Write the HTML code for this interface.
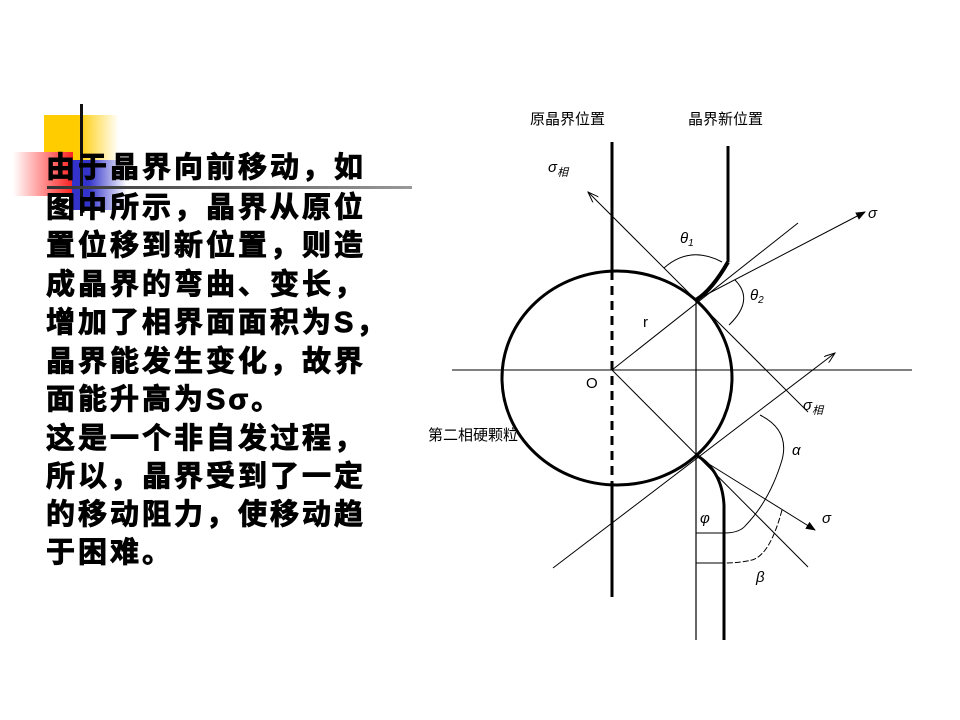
<!DOCTYPE html>
<html><head><meta charset="utf-8"><style>
body{margin:0;width:960px;height:720px;background:#fff;position:relative;overflow:hidden}
.t{position:absolute;left:46px;font-family:"Liberation Sans","Noto Sans CJK SC","WenQuanYi Zen Hei",sans-serif;font-weight:bold;font-size:29px;letter-spacing:3px;line-height:32px;color:#000;white-space:nowrap;-webkit-text-stroke:0.9px #000}
.l{font-family:"Liberation Sans","Noto Sans CJK SC",sans-serif;font-size:15px;fill:#000}
</style></head><body>
<svg width="960" height="720" style="position:absolute;left:0;top:0">
<defs>
<linearGradient id="gy" x1="0" x2="1"><stop offset="0.45" stop-color="#ffcc00"/><stop offset="1" stop-color="#fff"/></linearGradient>
<linearGradient id="gr" x1="1" x2="0"><stop offset="0" stop-color="#ff2020"/><stop offset="1" stop-color="#fff"/></linearGradient>
<linearGradient id="gb" x1="0" x2="1"><stop offset="0.3" stop-color="#3333cc"/><stop offset="1" stop-color="#fff"/></linearGradient>
<linearGradient id="gl" x1="0" x2="1"><stop offset="0" stop-color="#333"/><stop offset="1" stop-color="#999"/></linearGradient>
<marker id="ar" markerWidth="10" markerHeight="8" refX="9" refY="4" orient="auto" markerUnits="userSpaceOnUse"><path d="M0,0 L10,4 L0,8 z" fill="#000"/></marker>
<marker id="ao" markerWidth="12" markerHeight="8" refX="11" refY="4" orient="auto" markerUnits="userSpaceOnUse"><path d="M0,0 L11,4 L0,8" fill="none" stroke="#000"/></marker>
</defs>
<rect x="44" y="115" width="75" height="45" fill="url(#gy)"/>
<rect x="13" y="152" width="60" height="44" fill="url(#gr)"/>
<rect x="72" y="160" width="55" height="50" fill="url(#gb)"/>
<rect x="80" y="104" width="3" height="112" fill="#111"/>
<rect x="47" y="186" width="365" height="3" fill="url(#gl)"/>

<g stroke="#000" fill="none">
<line x1="452" y1="370" x2="912" y2="370" stroke-width="1"/>
<ellipse cx="617" cy="378" rx="115" ry="107" stroke-width="3"/>
<line x1="612" y1="142" x2="612" y2="271" stroke-width="3"/>
<line x1="612" y1="271" x2="612" y2="485" stroke-width="3" stroke-dasharray="9,6"/>
<line x1="612" y1="485" x2="612" y2="597" stroke-width="3"/>
<line x1="728" y1="146" x2="728" y2="262" stroke-width="3"/>
<path d="M728,262 Q712,290 696,300" stroke-width="4"/>
<line x1="696" y1="300" x2="696" y2="640" stroke-width="1.2"/>
<path d="M696,455 Q722,470 724,505 L724,640" stroke-width="3"/>
<line x1="808" y1="412" x2="588" y2="192" stroke-width="1" marker-end="url(#ao)"/>
<line x1="612" y1="370" x2="808" y2="567" stroke-width="1"/>
<line x1="612" y1="370" x2="798" y2="223" stroke-width="1"/>
<line x1="553" y1="568" x2="835" y2="353" stroke-width="1" marker-end="url(#ao)"/>
<line x1="696" y1="300" x2="865" y2="212" stroke-width="1" marker-end="url(#ar)"/>
<line x1="696" y1="456" x2="815" y2="530" stroke-width="1" marker-end="url(#ar)"/>
<path d="M664,268 Q690,245 722,262" stroke-width="1"/>
<path d="M735,280 Q755,300 729,325" stroke-width="1"/>
<path d="M760,415 Q790,430 782,460 Q770,500 746,525 Q740,533 724,533" stroke-width="1"/>
<path d="M782,510 Q770,555 752,560 Q740,563 724,563" stroke-width="1" stroke-dasharray="6,2"/>
<line x1="696" y1="533" x2="724" y2="533" stroke-width="1"/>
<line x1="696" y1="563" x2="724" y2="563" stroke-width="1"/>
</g>
<text class="l" x="530" y="124">原晶界位置</text>
<text class="l" x="688" y="124">晶界新位置</text>
<text class="l" x="428" y="440">第二相硬颗粒</text>
<text class="l" x="586" y="388">O</text>
<text class="l" x="548" y="172" font-style="italic" font-size="17">σ<tspan font-size="11" dy="4">相</tspan></text>
<text class="l" x="803" y="410" font-style="italic" font-size="17">σ<tspan font-size="11" dy="4">相</tspan></text>
<text class="l" x="868" y="218" font-style="italic" font-size="17">σ</text>
<text class="l" x="822" y="523" font-style="italic" font-size="17">σ</text>
<text class="l" x="680" y="243" font-style="italic">θ<tspan font-size="10" dy="3">1</tspan></text>
<text class="l" x="750" y="300" font-style="italic">θ<tspan font-size="10" dy="3">2</tspan></text>
<text class="l" x="643" y="327" font-size="12">r</text>
<text class="l" x="792" y="455" font-size="12" font-style="italic">α</text>
<text class="l" x="700" y="523" font-style="italic">φ</text>
<text class="l" x="756" y="582" font-style="italic">β</text>
</svg>
<div class="t" style="top:152px">由于晶界向前移动，如</div>
<div class="t" style="top:192px">图中所示，晶界从原位</div>
<div class="t" style="top:230px">置位移到新位置，则造</div>
<div class="t" style="top:269px">成晶界的弯曲、变长，</div>
<div class="t" style="top:307px">增加了相界面面积为S，</div>
<div class="t" style="top:346px">晶界能发生变化，故界</div>
<div class="t" style="top:384px">面能升高为Sσ。</div>
<div class="t" style="top:423px">这是一个非自发过程，</div>
<div class="t" style="top:461px">所以，晶界受到了一定</div>
<div class="t" style="top:499px">的移动阻力，使移动趋</div>
<div class="t" style="top:537px">于困难。</div>
</body></html>
